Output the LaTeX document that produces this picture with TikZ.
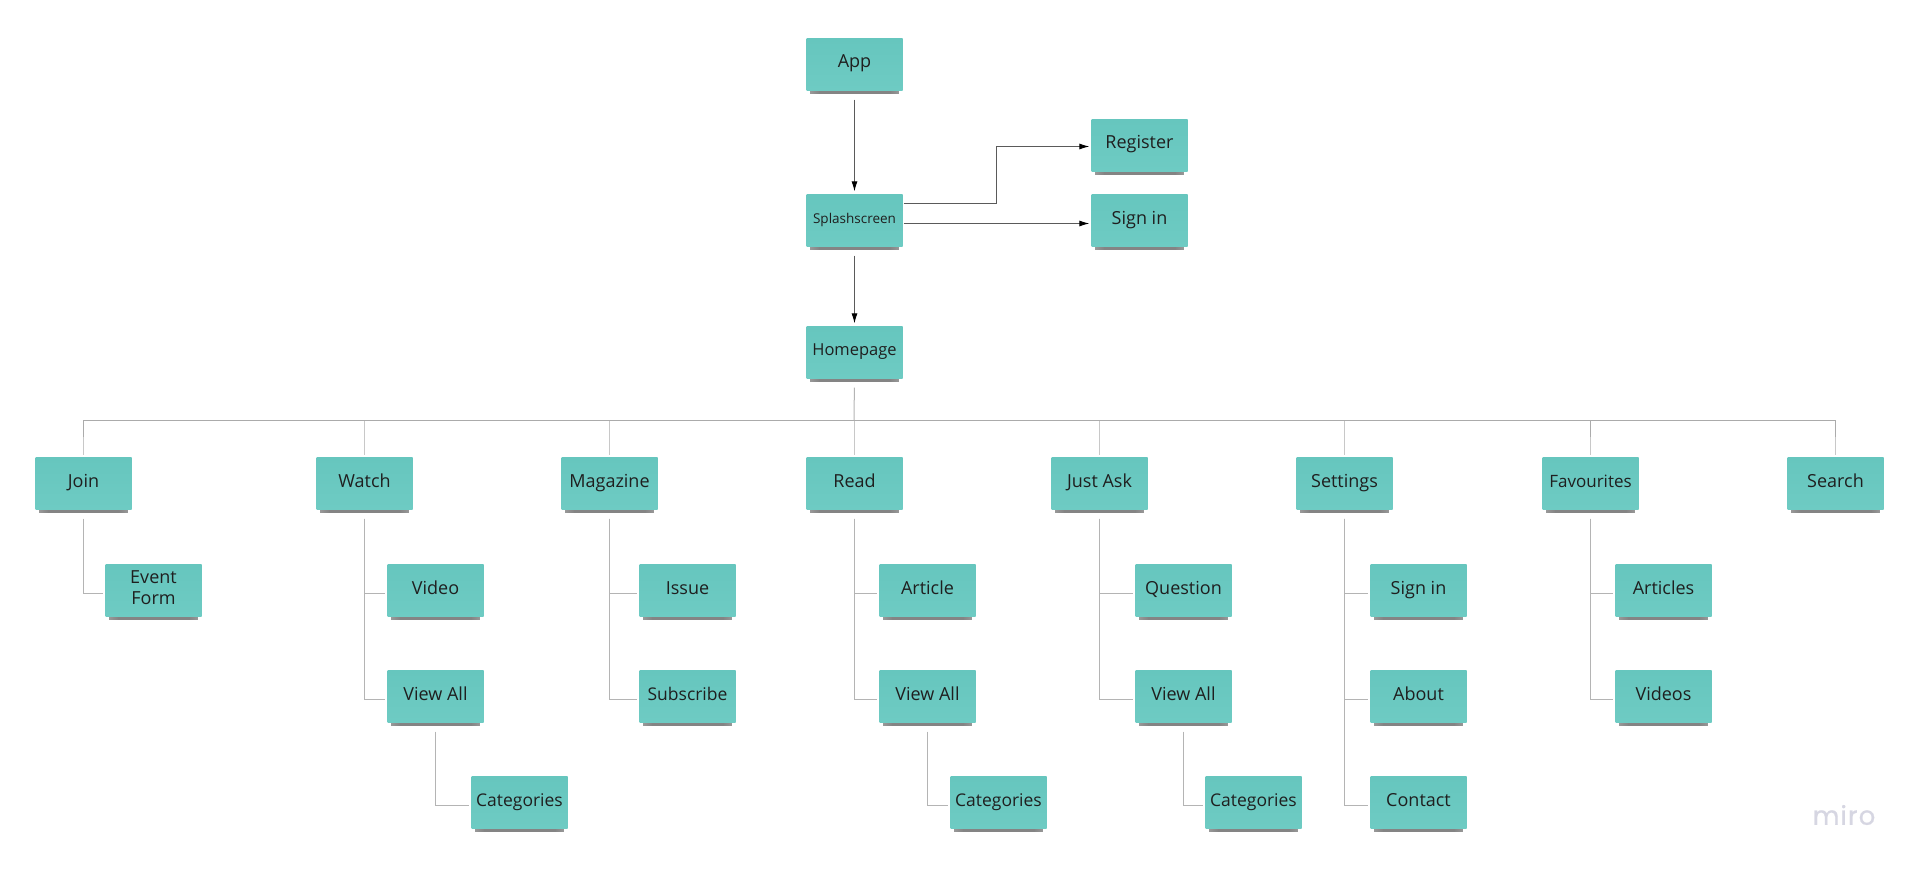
\documentclass[tikz,border=0pt]{standalone}
\usepackage{fontspec}
\setmainfont{Open Sans}
\newfontfamily\logofont[FakeBold=0.6]{Poppins}
\usetikzlibrary{arrows.meta,shadows,fadings}
\definecolor{notetop}{HTML}{66C6BE}
\definecolor{notebottom}{HTML}{6ECBC3}
\definecolor{treegray}{HTML}{B4B4B4}
\definecolor{buslinegray}{HTML}{ABABAB}
\definecolor{dropgray}{HTML}{C8C8C8}
\definecolor{arrowgray}{HTML}{5A5A5A}
\definecolor{logogray}{HTML}{D6D6E2}
\pgfdeclarehorizontalshading{shadowfadeh}{100bp}{color(0bp)=(black);color(30bp)=(white);color(70bp)=(white);color(100bp)=(black)}
\pgfdeclarefading{softshadow}{\pgfuseshading{shadowfadeh}}
\tikzset{
  x=1pt,y=-1pt,
  note/.style={top color=notetop,bottom color=notebottom,minimum width=96pt,minimum height=52pt,inner sep=0pt,
    xshift=.5pt,yshift=-.5pt,
    text=black!88,font=\fontsize{18}{21}\selectfont,text height=13pt,text depth=6pt,
    general shadow={shadow xshift=0pt,shadow yshift=-6pt,shadow scale=.92,fill=black!80,fill opacity=.6,path fading=softshadow}},
  smallnote/.style={note,font=\fontsize{13.5}{16}\selectfont},
  multinote/.style={note,align=center,text height=,text depth=},
  flow/.style={draw=arrowgray,line width=.9pt,-{Latex[length=10pt,width=6pt,black]}},
  tree/.style={draw=treegray,line width=1pt},
  busline/.style={draw=buslinegray,line width=1pt},
  drop/.style={draw=dropgray,line width=1pt},
}
\begin{document}
\begin{tikzpicture}
\useasboundingbox (0,0) rectangle (1920,872);
\fill[white] (0,0) rectangle (1920,872);

\node[note] (app) at (854,64) {App};
\node[smallnote] (splash) at (854,220) {\raisebox{1pt}{Splashscreen}};
\node[note] (register) at (1139,145) {Register};
\node[note] (signin) at (1139,220) {Sign in};
\node[note] (home) at (854,352) {\raisebox{1pt}{\fontsize{16.5}{20}\selectfont Homepage}};

\node[note] (join) at (83,483) {Join};
\node[note] (watch) at (364,483) {Watch};
\node[note] (magazine) at (609,483) {Magazine};
\node[note] (read) at (854,483) {Read};
\node[note] (ask) at (1099,483) {Just Ask};
\node[note] (settings) at (1344,483) {Settings};
\node[note] (favs) at (1590,483) {\fontsize{17}{20}\selectfont Favourites};
\node[note] (search) at (1835,483) {Search};

\node[multinote] (event) at (153,590) {Event\\Form\rule[-5pt]{0pt}{5pt}};
\node[note] (video) at (435,590) {Video};
\node[note] (viewa) at (435,696) {View All};
\node[note] (cata) at (519,802) {\fontsize{17.5}{20}\selectfont Categories};
\node[note] (issue) at (687,590) {Issue};
\node[note] (subscribe) at (687,696) {\fontsize{17.5}{20}\selectfont Subscribe};
\node[note] (article) at (927,590) {Article};
\node[note] (viewb) at (927,696) {View All};
\node[note] (catb) at (998,802) {\fontsize{17.5}{20}\selectfont Categories};
\node[note] (question) at (1183,590) {Question};
\node[note] (viewc) at (1183,696) {View All};
\node[note] (catc) at (1253,802) {\fontsize{17.5}{20}\selectfont Categories};
\node[note] (signb) at (1418,590) {Sign in};
\node[note] (about) at (1418,696) {About};
\node[note] (contact) at (1418,802) {Contact};
\node[note] (articles) at (1663,590) {Articles};
\node[note] (videos) at (1663,696) {Videos};

\coordinate (bus) at (854,420);
\coordinate (regelbow) at (996,203.5);

% arrows
\draw[flow,shorten <=9pt,shorten >=3pt] (app.south) -- (splash.north);
\draw[flow,shorten <=9pt,shorten >=3pt] (splash.south) -- (home.north);
\draw[flow,shorten <=1pt,shorten >=2pt] ([yshift=17pt]splash.east) -- (regelbow) |- ([yshift=-1pt]register.west);
\draw[flow,shorten <=1pt,shorten >=2pt] ([yshift=-3pt]splash.east) -- ([yshift=-3pt]signin.west);

% tree
\foreach \n in {join,watch,magazine,read,ask,settings,favs,search}
  \draw[drop,shorten >=2pt] (bus) -| (\n.north);
\foreach \n in {join,favs,search}
  \draw[busline] (bus) -| ([yshift=20pt]\n.north);
\draw[tree,shorten <=9pt] (home.south) -- (bus);

\foreach \p/\c in {join/event,watch/video,watch/viewa,viewa/cata,magazine/issue,magazine/subscribe,read/article,read/viewb,viewb/catb,ask/question,ask/viewc,viewc/catc,settings/signb,settings/about,settings/contact,favs/articles,favs/videos}
  \draw[tree,shorten <=9pt,shorten >=2pt] (\p.south) |- ([yshift=-3pt]\c.west);

\node[font=\logofont\fontsize{26}{30}\selectfont\addfontfeature{LetterSpace=4},text=logogray,inner sep=0pt] (miro) at (1844,815) {miro};
\end{tikzpicture}
\end{document}
